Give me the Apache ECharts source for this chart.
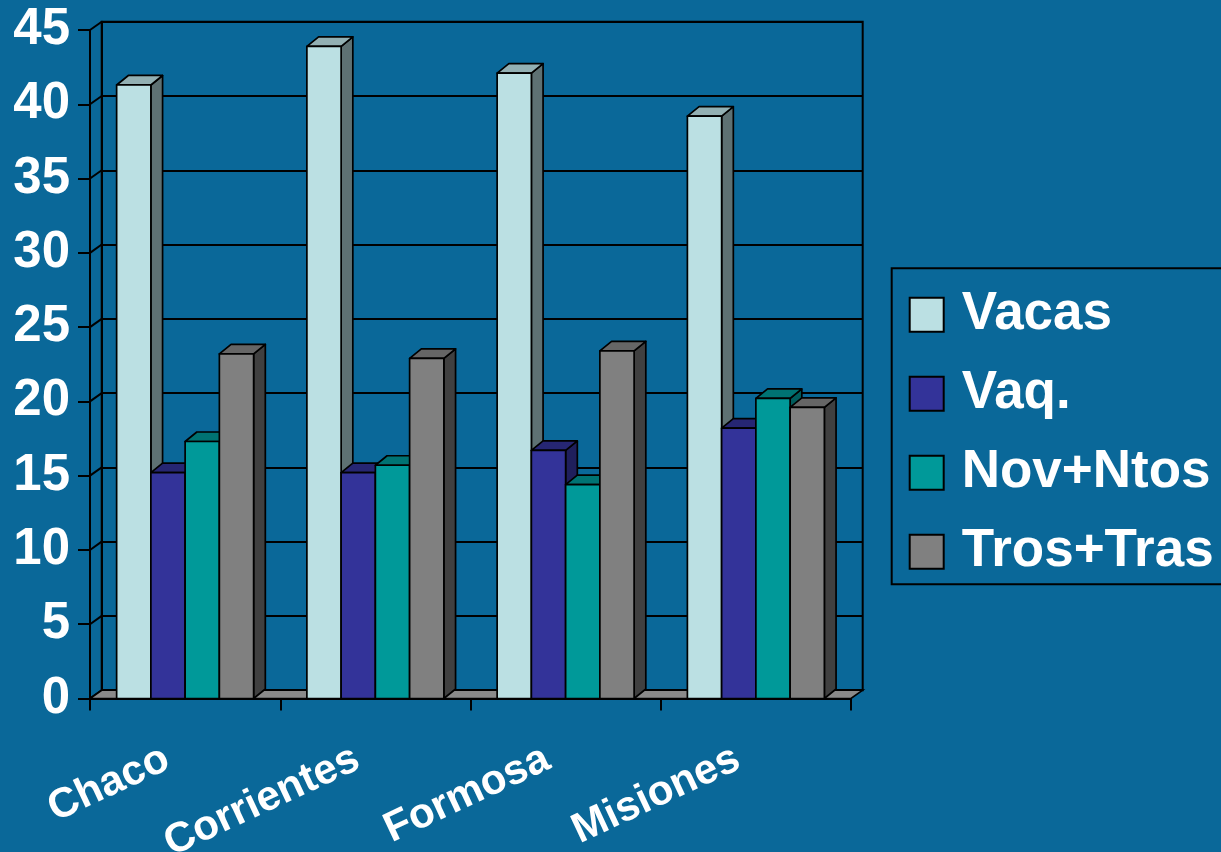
<!DOCTYPE html>
<html>
<head>
<meta charset="utf-8">
<script src="https://cdn.jsdelivr.net/npm/echarts@6.0.0/dist/echarts.min.js"></script>
<style>
html,body{margin:0;padding:0;background:#0A6899;}
#chart{width:1221px;height:852px;}
</style>
</head>
<body>
<div id="chart"></div>
<script>
// ---- data ----
const categories = ['Chaco', 'Corrientes', 'Formosa', 'Misiones'];
const seriesNames = ['Vacas', 'Vaq.', 'Nov+Ntos', 'Tros+Tras'];
const vacas    = [41.3, 43.9, 42.1, 39.2];
const vaq      = [15.2, 15.2, 16.7, 18.2];
const novNtos  = [17.3, 15.7, 14.4, 20.2];
const trosTras = [23.2, 22.9, 23.4, 19.6];
const yTicks   = [0, 5, 10, 15, 20, 25, 30, 35, 40, 45];

// ---- style ----
const FONT = "'Liberation Sans', Arial, sans-serif";
const WALL_DX = 11.7, WALL_DY = -8.3;
const BAR_DX = 11.7, BAR_DY = -9.5;
const faceColors = [
  { front: '#BBE0E3', top: '#93B0B3', side: '#5E7173' },
  { front: '#333399', top: '#262673', side: '#1F1F5C' },
  { front: '#009999', top: '#007373', side: '#005C5C' },
  { front: '#808080', top: '#666666', side: '#404040' }
];
const allValues = [vacas, vaq, novNtos, trosTras];

const chart = echarts.init(document.getElementById('chart'), null, { renderer: 'canvas' });

function barSeries(i) {
  const col = faceColors[i];
  return {
    type: 'custom',
    name: seriesNames[i],
    xAxisIndex: 0, yAxisIndex: 0,
    itemStyle: { color: col.front },
    encode: { x: 0, y: 1 },
    z: 5 + i,
    data: allValues[i].map((v, j) => [j, v]),
    renderItem: function (params, api) {
      const j = api.value(0), v = api.value(1);
      const top = api.coord([j, v]);
      const base = api.coord([j, 0]);
      const band = api.size([1, 0])[0];
      const w = band * 0.18;
      const x0 = top[0] - 2 * w + i * w;
      const x1 = x0 + w;
      const yt = top[1], yb = base[1];
      const stroke = { stroke: '#000', lineWidth: 1.7, lineJoin: 'round' };
      return {
        type: 'group',
        children: [
          { type: 'polygon', shape: { points: [[x1, yt], [x1 + BAR_DX, yt + BAR_DY], [x1 + BAR_DX, yb + BAR_DY], [x1, yb]] },
            style: Object.assign({ fill: col.side }, stroke) },
          { type: 'polygon', shape: { points: [[x0, yt], [x1, yt], [x1 + BAR_DX, yt + BAR_DY], [x0 + BAR_DX, yt + BAR_DY]] },
            style: Object.assign({ fill: col.top }, stroke) },
          { type: 'rect', shape: { x: x0, y: yt, width: w, height: yb - yt },
            style: Object.assign({ fill: col.front }, stroke) }
        ]
      };
    }
  };
}

const option = {
  backgroundColor: '#0A6899',
  animation: false,
  color: faceColors.map(c => c.front),
  grid: [
    { left: 90, top: 30, right: 370, bottom: 153.5, outerBoundsMode: 'none', containLabel: false },
    { left: 101.7, top: 21.7, right: 358.3, bottom: 161.8, outerBoundsMode: 'none', containLabel: false,
      show: true, borderColor: '#000', borderWidth: 2, backgroundColor: 'transparent' }
  ],
  xAxis: [
    {
      type: 'category', gridIndex: 0, data: categories, boundaryGap: true,
      axisLine: { show: true, lineStyle: { color: '#000', width: 2 } },
      axisTick: { show: true, length: 12, lineStyle: { color: '#000', width: 2 } },
      axisLabel: {
        color: '#fff', fontFamily: FONT, fontWeight: 'bold', fontSize: 42,
        rotate: 25, margin: 50, padding: [0, 20, 0, 0], interval: 0
      },
      splitLine: { show: false }
    },
    { type: 'value', gridIndex: 1, show: false, min: 0, max: 1 }
  ],
  yAxis: [
    {
      type: 'value', gridIndex: 0, min: 0, max: 45, interval: 5,
      axisLine: { show: true, lineStyle: { color: '#000', width: 2 } },
      axisTick: { show: true, length: 12, lineStyle: { color: '#000', width: 2 } },
      axisLabel: { color: '#fff', fontFamily: FONT, fontWeight: 'bold', fontSize: 51, margin: 20 },
      splitLine: { show: false }
    },
    {
      type: 'value', gridIndex: 1, min: 0, max: 45, interval: 5,
      axisLine: { show: true, lineStyle: { color: '#000', width: 2 } },
      axisTick: { show: false }, axisLabel: { show: false },
      splitLine: { show: true, lineStyle: { color: '#000', width: 2 } }
    }
  ],
  legend: {
    orient: 'vertical', left: 891.7, top: 268.3,
    data: seriesNames,
    icon: 'rect', itemWidth: 34, itemHeight: 34, itemGap: 26,
    padding: [20, 40, 6, 17],
    borderColor: '#000', borderWidth: 2,
    itemStyle: { borderColor: '#000', borderWidth: 2 },
    textStyle: { color: '#fff', fontFamily: FONT, fontWeight: 'bold', fontSize: 53, lineHeight: 52, padding: [0, 0, 0, 13] }
  },
  series: [
    // left side wall lines
    {
      type: 'custom', name: 'sidewall', xAxisIndex: 0, yAxisIndex: 0, z: 3, silent: true,
      encode: { x: 0, y: 1 },
      data: yTicks.map(v => [0, v]),
      renderItem: function (params, api) {
        const cs = params.coordSys;
        const y = api.coord([0, api.value(1)])[1];
        return { type: 'line', shape: { x1: cs.x, y1: y, x2: cs.x + WALL_DX, y2: y + WALL_DY },
          style: { stroke: '#000', lineWidth: 2 } };
      }
    },
    // floor
    {
      type: 'custom', name: 'floor', xAxisIndex: 0, yAxisIndex: 0, z: 4, silent: true,
      encode: { x: 0, y: 1 },
      data: [[0, 0]],
      renderItem: function (params, api) {
        const cs = params.coordSys;
        const y = api.coord([0, 0])[1];
        const xl = cs.x, xr = cs.x + cs.width;
        return { type: 'polygon',
          shape: { points: [[xl, y], [xr, y], [xr + WALL_DX, y + WALL_DY], [xl + WALL_DX, y + WALL_DY]] },
          style: { fill: '#8A8A8A', stroke: '#000', lineWidth: 1.7 } };
      }
    },
    barSeries(0), barSeries(1), barSeries(2), barSeries(3)
  ]
};
chart.setOption(option);
</script>
</body>
</html>
